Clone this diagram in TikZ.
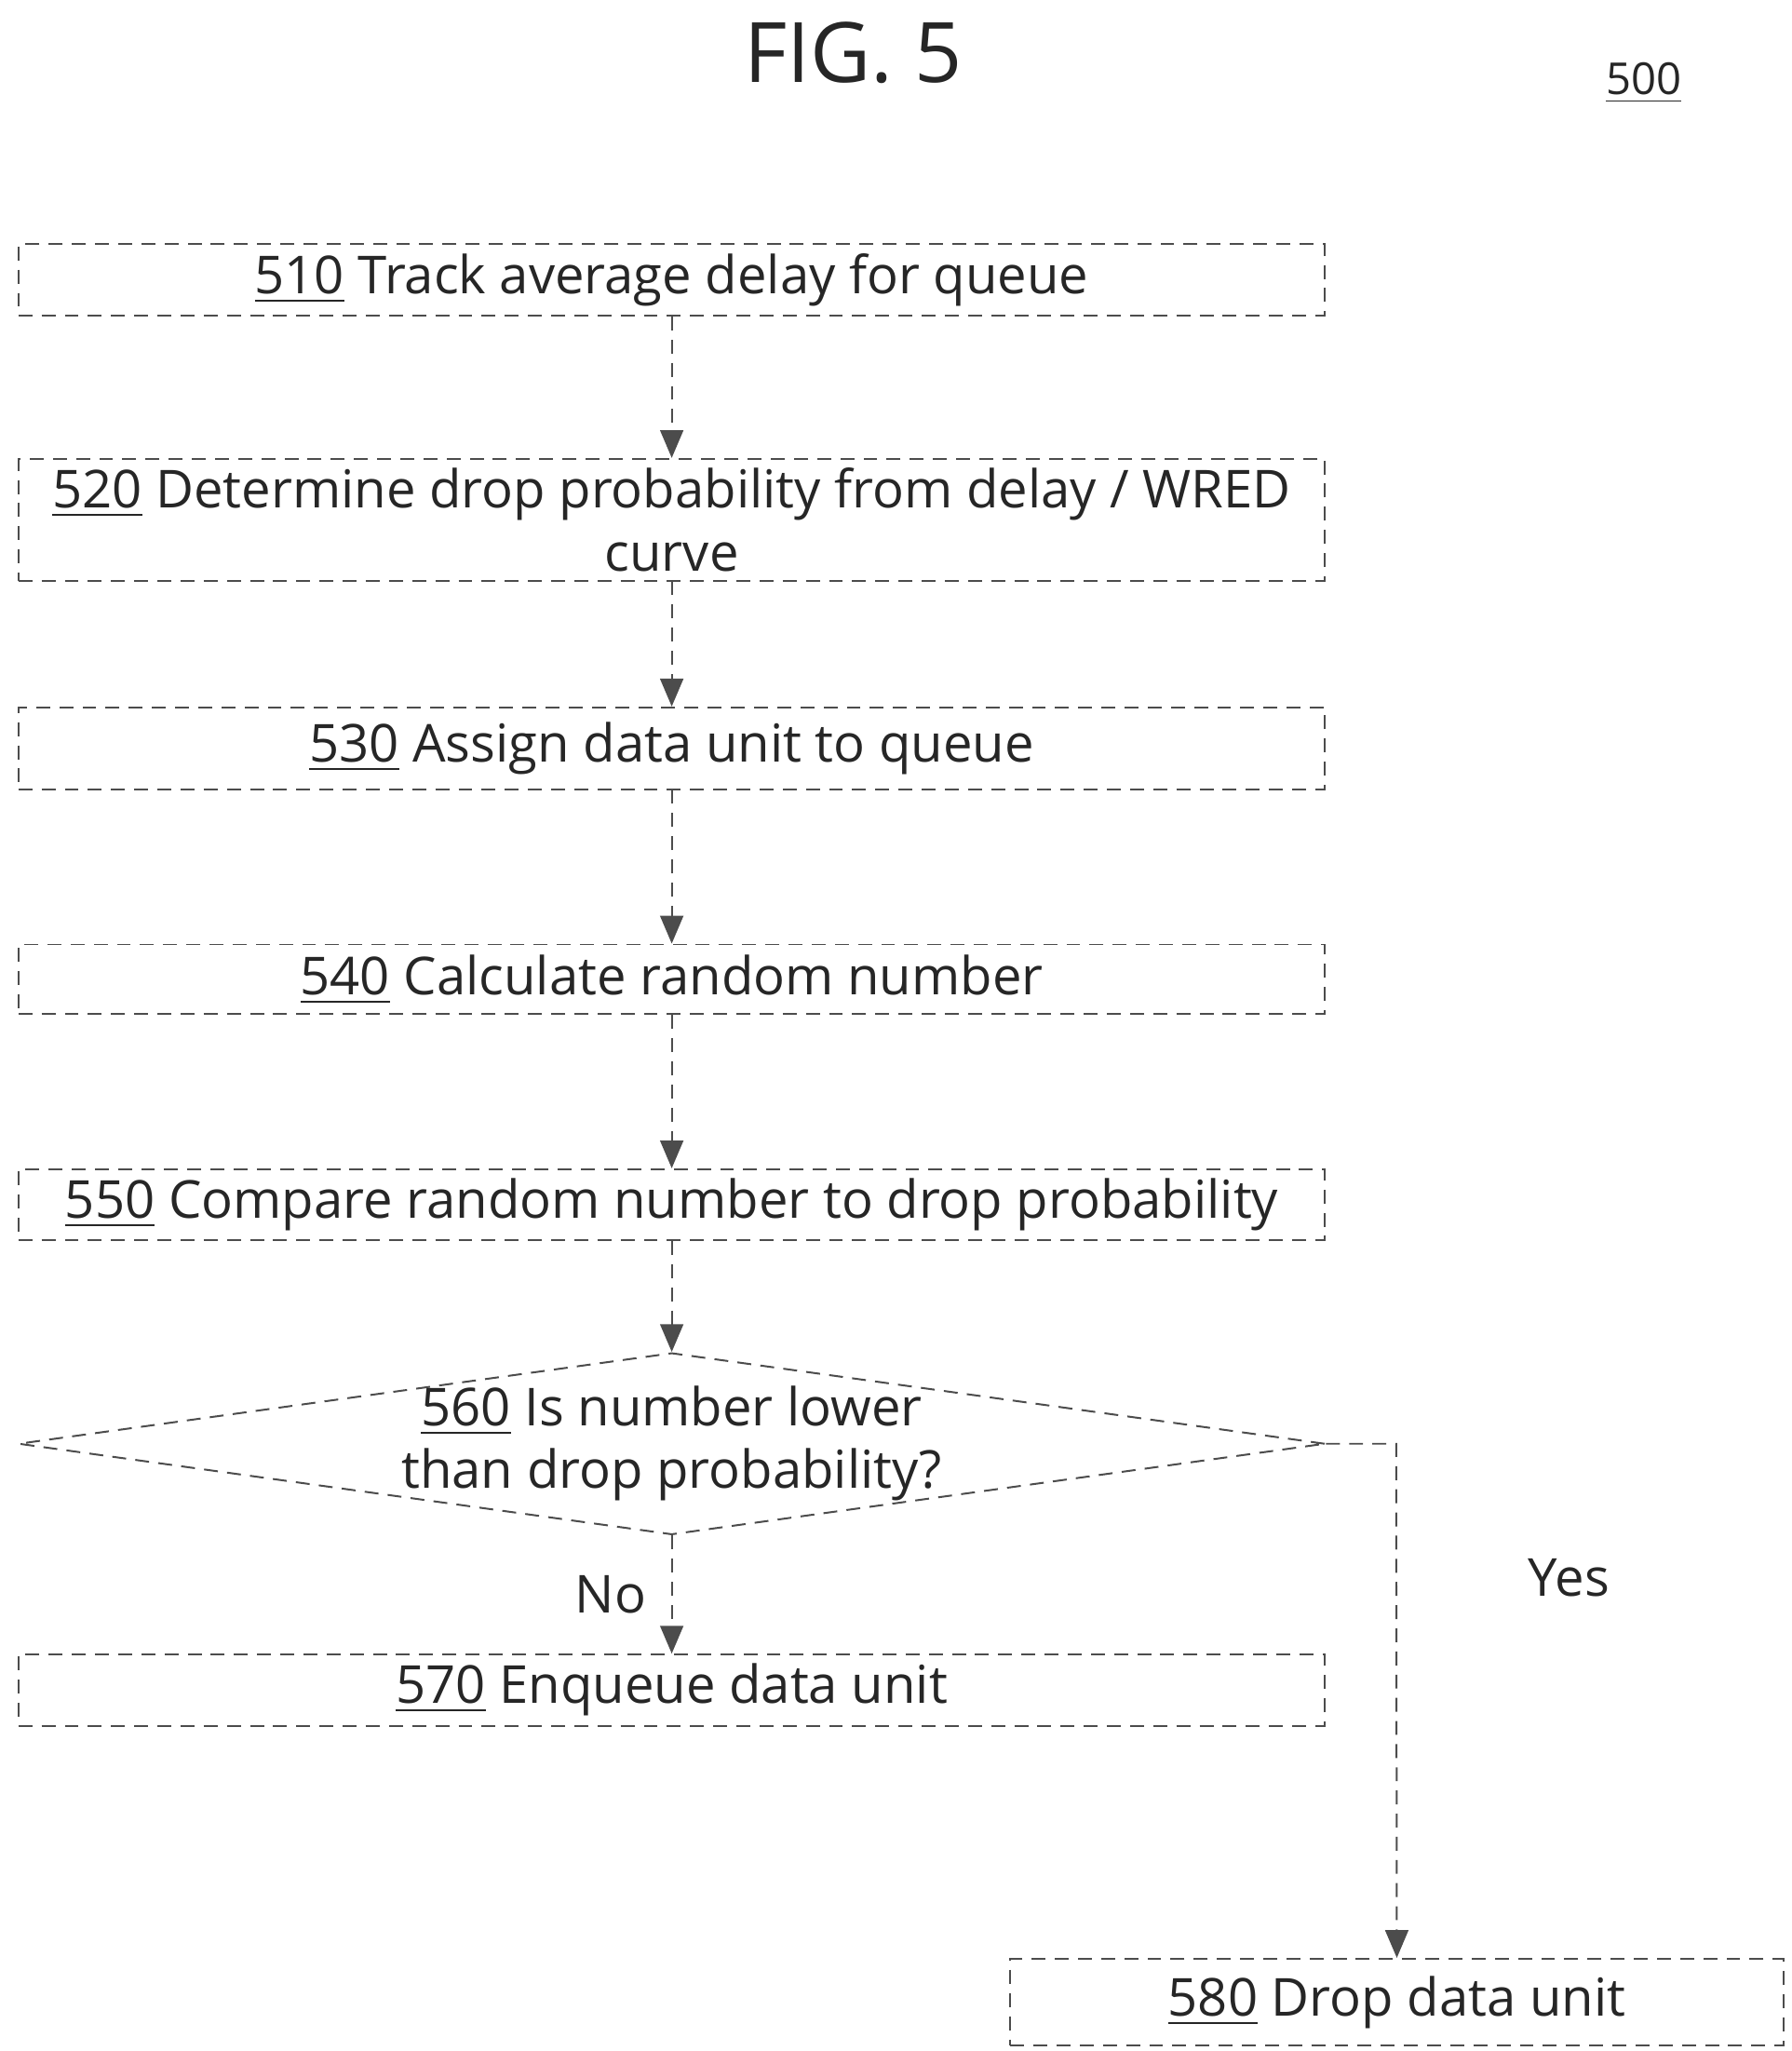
\documentclass[tikz,border=0pt]{standalone}
\usepackage{fontspec}
\setmainfont{Open Sans}
\usetikzlibrary{arrows.meta,shapes.geometric}
\begin{document}
\begin{tikzpicture}[x=0.01cm,y=-0.01cm,
  bx/.style={draw=black!70,densely dashed,line width=0.4pt,minimum height=#1*0.01cm,minimum width=992*0.01cm,inner sep=2pt,align=center,font=\fontsize{11.3}{13.5}\selectfont,text=black!85},
  bx/.default=53,
  ar/.style={draw=black!70,densely dashed,line width=0.4pt,-{Triangle[width=5pt,length=6pt,fill=black!70]}},
  lb/.style={font=\fontsize{11.3}{13.5}\selectfont,text=black!85}]
\useasboundingbox (0,0) rectangle (1360,1557);
\node[font=\fontsize{18}{20}\selectfont,text=black!85] (fig) at (648,40) {FIG. 5};
\node[lb,font=\fontsize{9.5}{11}\selectfont] (n500) at (1248,63) {\underline{500}};
\node[bx] (a) at (510,212.5) {\underline{510} Track average delay for queue};
\node[bx=91] (b) at (510,394.5) {\underline{520} Determine drop probability from delay / WRED\\curve};
\node[bx=62] (c) at (510,568) {\underline{530} Assign data unit to queue};
\node[bx] (d) at (510,743.5) {\underline{540} Calculate random number};
\node[bx] (e) at (510,914.5) {\underline{550} Compare random number to drop probability};
\node[draw=black!70,densely dashed,line width=0.4pt,diamond,aspect=7.2,minimum width=992*0.01cm,minimum height=138*0.01cm,inner sep=0pt] (f) at (510,1096) {};
\node[lb,align=center] (ft) at (510,1096) {\underline{560} Is number lower\\than drop probability?};
\node[bx=54] (g) at (510,1283) {\underline{570} Enqueue data unit};
\node[bx=66,minimum width=587*0.01cm] (h) at (1060.5,1520) {\underline{580} Drop data unit};
\draw[ar] (a) -- (b);
\draw[ar] (b) -- (c);
\draw[ar] (c) -- (d);
\draw[ar] (d) -- (e);
\draw[ar] (e) -- (f.north);
\draw[ar] (f.south) -- node[lb,left=2pt,pos=0.5] {No} (g);
\coordinate (k) at (1060,1096);
\draw[ar] (f.east) -- (k) -- node[lb,pos=0.26,right=25pt] {Yes} (h.north);
\end{tikzpicture}
\end{document}
